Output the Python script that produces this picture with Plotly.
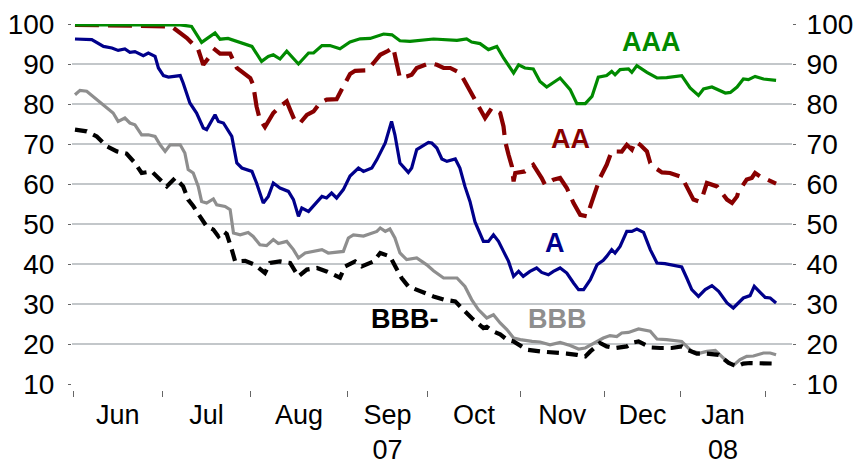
import plotly.graph_objects as go

# x = trading-day index since the start of June 2007
month_starts = [0, 21.24, 42.3, 65.35, 84.5, 106.6, 126.6, 144.9, 165.0]
month_labels = ["Jun", "Jul", "Aug", "Sep<br>07", "Oct", "Nov", "Dec", "Jan<br>08"]
y_ticks = [10, 20, 30, 40, 50, 60, 70, 80, 90, 100]
grid_vals = [20, 30, 40, 50, 60, 70, 80, 90]

aaa_x = [0.4, 25.5, 28.2, 29.4, 30.6, 33.8, 35.0, 36.9, 40.2, 42.6, 44.9, 46.5, 47.7, 49.3, 50.9, 53.7, 56.1, 57.3, 59.3, 61.2, 63.6, 66.0, 68.4, 70.8, 74.0, 76.0, 77.9, 80.3, 85.9, 91.5, 93.8, 95.0, 97.0, 99.0, 101.0, 102.6, 105.0, 106.2, 107.7, 109.7, 111.3, 112.9, 116.1, 118.5, 120.1, 122.1, 123.7, 125.2, 127.2, 128.4, 129.2, 130.4, 132.4, 133.2, 134.4, 136.8, 139.2, 141.5, 145.1, 147.1, 149.1, 150.3, 152.3, 155.5, 156.7, 158.3, 159.8, 161.0, 162.6, 164.6, 167.6]
aaa_y = [99.8, 99.8, 99.4, 97.5, 95.4, 97.75, 96.2, 96.4, 95.2, 94.4, 90.65, 91.9, 92.3, 91.25, 93.2, 90.0, 92.75, 92.75, 94.6, 94.6, 93.8, 95.5, 96.3, 96.4, 97.5, 97.3, 95.8, 95.65, 96.25, 95.9, 96.25, 95.5, 95.1, 93.6, 94.4, 91.5, 87.75, 89.8, 89.0, 88.75, 85.65, 84.25, 86.5, 83.6, 80.1, 80.1, 81.9, 86.7, 87.1, 88.15, 87.3, 88.6, 88.75, 87.9, 89.6, 87.9, 86.5, 86.6, 87.1, 84.0, 82.15, 83.75, 84.25, 82.75, 82.9, 84.25, 86.25, 86.1, 86.9, 86.25, 85.9]

aa_x = [0.4, 23.1, 23.9, 27.1, 29.8, 31.0, 33.8, 35.0, 37.4, 39.0, 42.2, 42.9, 43.7, 44.5, 45.7, 47.7, 49.3, 50.9, 51.7, 52.9, 54.1, 55.7, 57.3, 58.8, 60.4, 62.8, 64.4, 66.0, 67.2, 70.0, 71.6, 73.2, 75.1, 76.3, 77.1, 77.9, 79.5, 80.7, 81.9, 85.1, 86.7, 88.3, 89.9, 91.5, 92.7, 93.8, 95.4, 97.0, 98.2, 99.8, 101.8, 102.6, 103.0, 103.8, 104.6, 105.0, 105.4, 107.7, 109.7, 111.7, 112.5, 114.5, 116.1, 117.7, 119.3, 120.9, 122.5, 123.3, 124.5, 125.6, 127.2, 128.4, 130.8, 132.0, 133.2, 134.0, 135.2, 136.8, 137.6, 138.8, 140.4, 142.3, 145.1, 146.7, 147.9, 149.1, 149.9, 151.1, 153.5, 154.7, 155.9, 157.1, 158.3, 158.6, 160.6, 161.8, 162.6, 163.8, 165.4, 167.6]
aa_y = [99.8, 99.4, 99.0, 96.5, 93.6, 89.8, 93.6, 92.6, 92.6, 89.0, 86.5, 84.8, 79.4, 76.1, 74.25, 77.75, 79.4, 80.65, 78.6, 75.65, 75.25, 77.3, 78.15, 80.25, 81.1, 81.2, 84.4, 87.5, 88.3, 88.4, 90.25, 92.3, 93.3, 94.15, 90.25, 86.5, 86.9, 87.3, 89.0, 90.25, 89.8, 89.0, 89.0, 88.15, 86.9, 84.8, 81.9, 78.6, 76.5, 79.0, 77.75, 74.4, 70.65, 67.3, 64.4, 60.65, 62.75, 63.15, 64.8, 61.5, 59.8, 61.1, 61.5, 59.0, 55.25, 52.3, 51.9, 54.4, 58.15, 61.5, 64.8, 68.15, 68.1, 69.8, 68.6, 70.65, 69.8, 68.15, 65.25, 64.0, 62.9, 62.75, 61.75, 58.6, 56.1, 55.65, 56.4, 60.25, 59.4, 57.75, 56.1, 55.25, 56.9, 58.0, 61.1, 61.5, 62.75, 61.9, 61.1, 60.1]

a_x = [0.4, 4.4, 7.2, 9.2, 10.7, 12.3, 13.5, 14.7, 16.7, 17.9, 19.5, 20.3, 21.5, 22.7, 25.5, 26.2, 27.8, 29.4, 31.0, 31.8, 33.8, 34.6, 35.8, 37.8, 39.0, 40.2, 42.6, 43.7, 45.3, 46.5, 47.7, 49.3, 51.3, 52.5, 53.7, 54.5, 56.1, 58.1, 59.3, 60.4, 61.6, 62.8, 64.4, 66.0, 68.0, 69.2, 71.2, 72.4, 74.4, 75.9, 76.7, 77.9, 79.9, 80.7, 81.9, 84.7, 85.5, 86.7, 87.9, 89.1, 91.1, 92.2, 93.4, 94.6, 95.8, 97.8, 99.0, 100.2, 101.4, 102.6, 103.8, 105.0, 106.2, 107.3, 108.9, 110.5, 111.7, 113.3, 114.5, 116.1, 117.7, 119.3, 120.5, 121.7, 123.3, 124.9, 126.4, 127.2, 128.4, 129.2, 130.4, 132.0, 133.2, 134.4, 136.0, 137.6, 139.2, 141.1, 143.1, 145.1, 146.3, 147.5, 149.1, 150.7, 152.3, 153.9, 155.9, 157.4, 158.6, 159.8, 161.4, 162.4, 163.8, 165.0, 166.2, 167.6]
a_y = [96.25, 96.1, 94.4, 94.0, 93.4, 93.75, 92.9, 93.1, 92.1, 92.75, 91.9, 89.0, 87.1, 86.75, 87.1, 85.25, 80.25, 77.75, 74.0, 73.6, 77.3, 75.65, 75.25, 71.9, 65.25, 64.0, 63.15, 60.25, 55.25, 56.9, 60.25, 59.0, 58.15, 56.1, 51.9, 54.0, 53.15, 55.65, 56.9, 56.5, 57.75, 56.5, 58.6, 62.0, 64.0, 63.15, 64.0, 66.1, 70.25, 75.65, 72.3, 65.25, 62.9, 64.0, 68.6, 70.4, 70.25, 69.0, 66.25, 65.65, 66.25, 64.0, 59.4, 55.65, 50.5, 45.65, 45.65, 47.3, 45.65, 43.15, 40.65, 36.9, 38.15, 36.9, 38.15, 39.0, 37.9, 37.3, 38.15, 39.0, 37.75, 35.25, 33.6, 33.6, 36.1, 39.8, 40.9, 41.9, 43.6, 42.75, 44.4, 48.15, 48.15, 48.75, 47.9, 43.6, 40.25, 40.1, 39.6, 39.25, 36.5, 33.6, 31.9, 33.6, 34.6, 33.15, 30.25, 29.0, 30.25, 31.5, 32.1, 34.4, 32.9, 31.65, 31.5, 30.25]

bbb_x = [0.4, 1.6, 3.2, 5.2, 7.6, 9.5, 10.7, 12.3, 13.5, 14.7, 16.3, 17.9, 19.5, 20.7, 21.9, 23.1, 25.5, 26.6, 27.4, 28.6, 29.8, 30.6, 31.8, 33.4, 34.2, 36.2, 37.4, 38.2, 39.8, 41.7, 42.9, 44.5, 46.1, 47.7, 48.9, 50.9, 52.5, 53.7, 55.3, 57.3, 59.3, 60.8, 62.8, 64.4, 65.6, 66.8, 69.2, 71.2, 72.4, 73.2, 74.4, 75.5, 76.7, 77.9, 79.5, 81.9, 84.3, 85.9, 88.3, 91.5, 93.4, 95.0, 96.6, 98.6, 100.2, 101.8, 103.4, 105.0, 106.6, 109.4, 111.3, 113.7, 116.1, 118.5, 120.5, 122.1, 124.1, 126.4, 128.0, 129.6, 130.8, 132.4, 134.8, 136.8, 137.6, 139.2, 141.5, 145.1, 146.3, 147.5, 149.5, 151.1, 153.1, 154.3, 155.9, 157.4, 159.0, 160.6, 162.2, 164.6, 166.2, 167.6]
bbb_y = [82.3, 83.4, 83.2, 81.5, 79.4, 77.75, 75.65, 76.5, 75.25, 74.8, 72.3, 72.3, 71.9, 69.8, 68.15, 69.8, 69.8, 67.75, 63.6, 62.75, 59.4, 55.65, 55.25, 56.25, 54.8, 54.4, 53.6, 47.75, 47.3, 47.9, 46.9, 44.8, 44.6, 46.1, 45.1, 45.65, 43.6, 41.5, 42.75, 43.15, 43.6, 42.75, 43.0, 43.15, 46.5, 47.3, 47.0, 47.75, 48.15, 49.0, 48.15, 48.75, 46.5, 42.75, 41.1, 41.5, 39.8, 38.3, 36.5, 36.5, 34.4, 31.1, 28.6, 26.5, 27.3, 25.25, 23.6, 21.5, 21.1, 20.65, 20.5, 19.8, 20.4, 19.6, 18.75, 19.0, 20.25, 21.5, 22.1, 21.85, 22.75, 22.9, 23.75, 23.4, 23.2, 21.25, 21.1, 20.65, 19.4, 18.15, 17.75, 18.15, 18.4, 17.3, 15.65, 14.65, 16.1, 16.9, 17.0, 17.75, 17.75, 17.3]

bbbm_x = [0.4, 3.2, 5.6, 8.0, 10.4, 12.7, 14.7, 16.3, 18.7, 20.7, 22.3, 24.3, 26.2, 27.4, 28.6, 30.2, 31.8, 33.4, 34.6, 35.8, 36.6, 37.8, 38.6, 41.0, 43.3, 45.7, 46.9, 49.3, 51.7, 53.7, 55.7, 58.1, 60.4, 63.6, 64.8, 67.2, 68.8, 71.6, 73.2, 75.5, 76.7, 78.3, 79.9, 82.7, 85.9, 88.3, 91.1, 93.0, 95.0, 97.8, 98.6, 100.2, 101.8, 103.4, 105.0, 106.9, 108.1, 111.3, 114.5, 117.7, 120.1, 122.1, 123.3, 124.5, 125.6, 127.2, 129.2, 132.0, 133.6, 134.8, 137.6, 140.0, 142.7, 145.1, 146.3, 148.7, 151.1, 153.9, 155.1, 156.3, 158.3, 159.8, 161.4, 163.8, 167.4]
bbbm_y = [73.6, 73.15, 71.9, 69.4, 68.15, 67.6, 65.25, 62.75, 63.15, 61.1, 59.4, 61.5, 59.4, 56.1, 54.5, 51.9, 49.4, 48.6, 46.9, 48.15, 47.5, 43.6, 40.65, 40.8, 39.8, 37.75, 40.25, 40.65, 40.25, 36.9, 38.6, 39.0, 38.15, 36.6, 39.4, 40.65, 39.4, 40.65, 42.75, 41.9, 39.8, 36.5, 34.4, 33.15, 31.9, 31.1, 30.65, 28.6, 26.5, 24.0, 24.3, 23.15, 22.4, 21.1, 20.65, 19.4, 18.6, 18.15, 18.0, 17.6, 17.3, 16.9, 18.15, 19.4, 20.25, 19.4, 19.0, 19.4, 20.4, 20.65, 19.15, 19.0, 19.0, 19.4, 18.6, 17.6, 17.6, 17.3, 16.1, 15.25, 14.4, 15.1, 15.25, 15.25, 15.1]

FONT = "Liberation Sans, Arial, sans-serif"
fig = go.Figure()
fig.add_trace(go.Scatter(x=bbb_x, y=bbb_y, mode="lines", line=dict(color="#8E8E8E", width=3.2), name="BBB"))
fig.add_trace(go.Scatter(x=bbbm_x, y=bbbm_y, mode="lines", line=dict(color="#000000", width=4.2, dash="12px,7px"), name="BBB-"))
fig.add_trace(go.Scatter(x=a_x, y=a_y, mode="lines", line=dict(color="#00008B", width=3.2), name="A"))
fig.add_trace(go.Scatter(x=aa_x, y=aa_y, mode="lines", line=dict(color="#880000", width=4.2, dash="24px,9px"), name="AA"))
fig.add_trace(go.Scatter(x=aaa_x, y=aaa_y, mode="lines", line=dict(color="#008A00", width=3.2), name="AAA", yaxis="y2"))

centers = [(month_starts[i] + month_starts[i + 1]) / 2 for i in range(len(month_starts) - 1)]

yax = dict(range=[8.5, 100], tickmode="array", tickvals=y_ticks, showgrid=False, zeroline=False,
           showline=False, ticks="outside", ticklen=3, tickcolor="#666666", tickwidth=1,
           automargin=False,
           tickfont=dict(family=FONT, size=28, color="#000000"))

fig.update_layout(
    width=859, height=467,
    margin=dict(l=72, r=67, t=24, b=77, autoexpand=False),
    paper_bgcolor="white", plot_bgcolor="white",
    showlegend=False,
    xaxis=dict(range=[-0.31, 171.4], tickmode="array", tickvals=centers, ticktext=month_labels,
               ticks="", showgrid=False, zeroline=False, showline=False, automargin=False,
               ticklabelstandoff=6,
               tickfont=dict(family=FONT, size=27, color="#000000"),
               minor=dict(tickmode="array", tickvals=month_starts, ticks="outside", ticklen=6,
                          tickcolor="#666666", tickwidth=1, showgrid=False)),
    yaxis=dict(**yax, ticklabelstandoff=8,
               minor=dict(tickmode="array", tickvals=grid_vals, ticks="", showgrid=True,
                          gridcolor="#C3C7CA", gridwidth=1.6)),
    yaxis2=dict(**yax, overlaying="y", side="right", ticklabelstandoff=5),
)

labels = [("AAA", 137.9, 95.45, "#008A00"), ("AA", 118.5, 71.3, "#880000"), ("A", 114.9, 45.2, "#00008B"),
          ("BBB-", 79.2, 26.3, "#000000"), ("BBB", 115.5, 26.3, "#8E8E8E")]
for txt, lx, ly, col in labels:
    fig.add_annotation(x=lx, y=ly, text="<b>%s</b>" % txt, showarrow=False,
                       font=dict(family=FONT, size=27, color=col), xanchor="center", yanchor="middle")

fig.write_html("out.html", config={"displayModeBar": False, "staticPlot": True},
               post_script="document.body.style.margin='0px';")
